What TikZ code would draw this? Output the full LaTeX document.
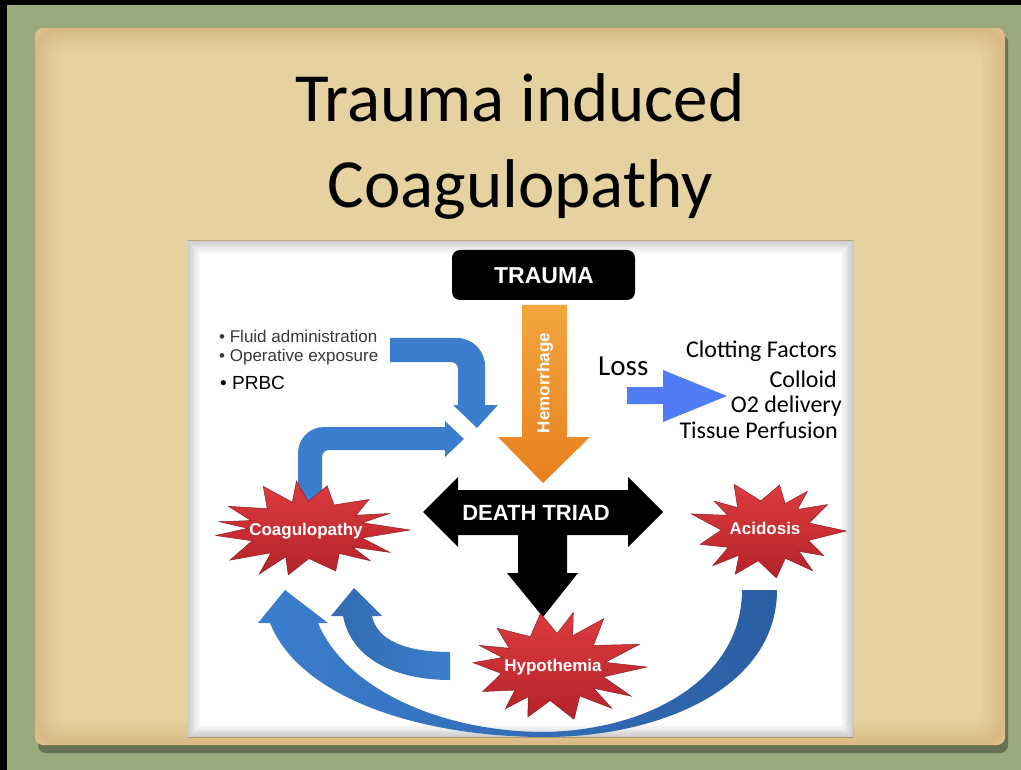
\documentclass[tikz,border=0pt]{standalone}
\usepackage{fontspec}
\setmainfont{Carlito}
\newfontfamily\arialf{Liberation Sans}
\definecolor{bggreen}{HTML}{9BAA7D}
\definecolor{parch}{HTML}{E5D2A0}
\definecolor{parchedge}{HTML}{C8955A}
\definecolor{blueA}{HTML}{3B7ECE}
\definecolor{blueB}{HTML}{2B5EA3}
\definecolor{lossblue}{HTML}{507DF5}
\definecolor{orangeA}{HTML}{F2A63E}
\definecolor{orangeB}{HTML}{E8801F}
\definecolor{starA}{HTML}{DC3B3E}
\definecolor{starB}{HTML}{B5232B}
\definecolor{graytext}{HTML}{383838}
\newcommand\starburstshape[6]{%
  \pgfmathtruncatemacro\burstmax{2*#5-1}%
  \shade[starshape] ({#1+#3},{#2})
  \foreach \k [evaluate=\k as \r using {mod(\k,2)==0 ? 1-0.15*abs(sin(\k*#6)) : 0.56},
               evaluate=\k as \a using {\k*180/#5+5*sin(\k*57)}] in {1,...,\burstmax}
  { -- ({#1+#3*\r*cos(\a)},{#2+#4*\r*sin(\a)}) } -- cycle;}
\begin{document}
\begin{tikzpicture}[x=1pt,y=-1pt,
  starshape/.style={top color=starA, bottom color=starB, draw=starB!80!black, line width=0.5},
  boldw/.style={text=white, font=\arialf\bfseries\fontsize{17}{20}\selectfont, inner sep=0},
  bigw/.style={text=white, font=\arialf\bfseries\fontsize{23}{26}\selectfont, inner sep=0},
  rtext/.style={font=\fontsize{24}{28}\selectfont, inner sep=0, anchor=base east},
  ltext/.style={font=\arialf\fontsize{17}{20}\selectfont, inner sep=0, anchor=base west, text=graytext},
  bluearrow/.style={fill=blueA}]
\useasboundingbox (0,0) rectangle (1021,770);
% background
\fill[bggreen] (0,0) rectangle (1021,770);
\fill[black] (0,0) rectangle (1021,5);
\fill[black] (0,0) rectangle (7,770);
% parchment
\fill[black!55!bggreen, opacity=0.6, rounded corners=8] (38,34) rectangle (1008,753);
\fill[parch, rounded corners=8] (35,28) rectangle (1005,745);
\begin{scope}
  \clip[rounded corners=8] (35,28) rectangle (1005,745);
  \foreach \i in {1,...,12}
    \draw[parchedge, opacity=0.03, line width=4*\i, rounded corners=30] (35,28) rectangle (1005,745);
\end{scope}
% title
\node[font=\fontsize{69}{83}\selectfont, anchor=base, inner sep=0] (t1) at (520,122) {Trauma induced};
\node[font=\fontsize{69}{83}\selectfont, anchor=base, inner sep=0] (t2) at (520,208) {Coagulopathy};
% white panel
\fill[white] (188,241) rectangle (853,737);
\begin{scope}
  \clip (188,241) rectangle (853,737);
  \foreach \i in {1,...,10}
    \draw[black, opacity=0.02, line width=2.4*\i] (188,241) rectangle (853,737);
\end{scope}
% blue upper arrows
\fill[bluearrow] (390,338) [rounded corners=28] -- (485,338) [sharp corners] -- (485,405)
  -- (498,405) -- (477,428) -- (453,405) -- (458,405) [rounded corners=7] -- (458,362)
  [sharp corners] -- (390,362) -- cycle;
\fill[bluearrow] (298,505) [rounded corners=26] -- (298,427) [sharp corners] -- (445,427)
  -- (445,421) -- (464,439) -- (445,457) -- (445,450) [rounded corners=7] -- (322,450)
  [sharp corners] -- (322,505) -- cycle;
% trauma box
\node[fill=black, rounded corners=8, minimum width=183, minimum height=50, inner sep=0] (trauma) at (543.5,275) {};
\node[bigw] (traumat) at (544,276) {TRAUMA};
% hemorrhage arrow
\shade[top color=orangeA, bottom color=orangeB] (522,305) -- (567,305) -- (567,437) -- (590,437)
  -- (543,483) -- (498,437) -- (522,437) -- cycle;
\node[boldw, rotate=90] (hem) at (545,383) {Hemorrhage};
% death triad
\fill[black] (423,512) -- (458,477) -- (458,490) -- (628,490) -- (628,477) -- (663,512)
  -- (628,547) -- (628,535) -- (567,535) -- (567,573) -- (578,573) -- (543,617)
  -- (507,573) -- (518,573) -- (518,535) -- (458,535) -- (458,547) -- cycle;
\node[font=\arialf\bfseries\fontsize{22}{26}\selectfont, text=white, inner sep=0] (triad) at (536,513) {DEATH TRIAD};
% bottom swoosh
\shade[left color=blueA, right color=blueB] (742,590) .. controls (742,678) and (650,730) .. (545,732)
  .. controls (440,732) and (345,688) .. (318,623) -- (328,623) -- (285,590) -- (258,623) -- (270,623)
  .. controls (300,698) and (420,737) .. (545,737)
  .. controls (660,737) and (777,688) .. (777,590) -- cycle;
% small curved arrow
\shade[left color=blueA!85!black, right color=blueA] (450,652) .. controls (405,652) and (377,640) .. (372,616)
  -- (382,616) -- (354,588) -- (331,616) -- (343,616)
  .. controls (352,662) and (400,680) .. (450,680) -- cycle;
% loss arrow
\fill[lossblue] (627,387) -- (663,387) -- (663,370) -- (727,396) -- (663,422) -- (663,404) -- (627,404) -- cycle;
% stars
\starburstshape{306}{530}{104}{51}{15}{73}
\starburstshape{766}{531}{80}{54}{13}{51}
\starburstshape{553}{667}{94}{60}{14}{83}
\node[boldw, anchor=base] (coag) at (306,535) {Coagulopathy};
\node[boldw, anchor=base] (acid) at (765,534) {Acidosis};
\node[boldw, anchor=base] (hypo) at (553,671) {Hypothemia};
% left text
\node[ltext] (fluid) at (219,342) {• Fluid administration};
\node[ltext] (oper) at (219,362) {• Operative exposure};
\node[ltext, text=black, font=\arialf\fontsize{19}{22}\selectfont] (prbc) at (220,389) {• PRBC};
% right text
\node[font=\fontsize{29}{34}\selectfont, inner sep=0, anchor=base west] (loss) at (598,375) {Loss};
\node[rtext] (clot) at (837,358) {Clotting Factors};
\node[rtext] (coll) at (837,388) {Colloid};
\node[rtext] (o2) at (842,412) {O2 delivery};
\node[rtext] (tiss) at (838,438) {Tissue Perfusion};
\end{tikzpicture}
\end{document}
